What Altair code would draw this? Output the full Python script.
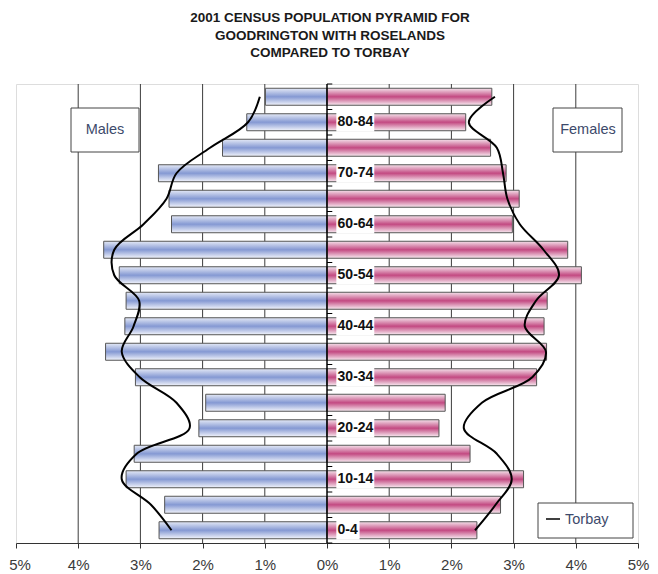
import altair as alt
import pandas as pd

# ---------------- data ----------------
ages = ["0-4", "5-9", "10-14", "15-19", "20-24", "25-29", "30-34", "35-39", "40-44",
        "45-49", "50-54", "55-59", "60-64", "65-69", "70-74", "75-79", "80-84", "85+"]
males = [2.70, 2.61, 3.23, 3.10, 2.06, 1.95, 3.08, 3.56, 3.25,
         3.23, 3.34, 3.59, 2.50, 2.54, 2.71, 1.68, 1.29, 0.99]
females = [2.41, 2.79, 3.16, 2.30, 1.80, 1.90, 3.37, 3.53, 3.49,
           3.54, 4.09, 3.87, 2.98, 3.09, 2.88, 2.63, 2.23, 2.65]
torbay_males = [2.50, 2.83, 3.30, 3.06, 2.21, 2.42, 3.01, 3.30, 3.11,
                3.02, 3.42, 3.42, 2.95, 2.58, 2.42, 1.88, 1.27, 1.08]
torbay_females = [2.38, 2.71, 2.97, 2.73, 2.20, 2.49, 3.30, 3.52, 3.18,
                  3.36, 3.73, 3.48, 3.10, 2.90, 2.83, 2.73, 2.28, 2.70]
age_labels = ["0-4", "10-14", "20-24", "30-34", "40-44", "50-54", "60-64", "70-74", "80-84"]
x_ticks = [-5, -4, -3, -2, -1, 0, 1, 2, 3, 4, 5]
title_lines = ["2001 CENSUS POPULATION PYRAMID FOR",
               "GOODRINGTON WITH ROSELANDS",
               "COMPARED TO TORBAY"]

FONT = "Liberation Sans"

male_df = pd.DataFrame({"age": ages, "idx": range(len(ages)), "value": [-v for v in males]})
female_df = pd.DataFrame({"age": ages, "idx": range(len(ages)), "value": females})
line_df = pd.concat([
    pd.DataFrame({"idx": range(len(ages)), "value": [-v for v in torbay_males], "side": "M"}),
    pd.DataFrame({"idx": range(len(ages)), "value": torbay_females, "side": "F"}),
])
label_df = pd.DataFrame({"label": age_labels, "idx": [ages.index(a) for a in age_labels]})
grid_df = pd.DataFrame({"g": [t for t in x_ticks if t not in (-5, 0, 5)]})
zero_df = pd.DataFrame({"z": [0]})
bound_df = pd.DataFrame({"b": [i - 0.5 for i in range(len(ages) + 1)]})

xs = alt.Scale(domain=[-5, 5], nice=False, zero=False)
ys = alt.Scale(domain=[-0.5, len(ages) - 0.5], nice=False, zero=False)
xaxis = alt.Axis(values=x_ticks, labelExpr="abs(datum.value) + '%'", grid=False,
                 domainColor="#333", tickColor="#333", tickSize=5, labelFontSize=15,
                 labelPadding=9, labelColor="#3a3a3a", title=None, labelFlush=False,
                 labelOverlap=False, labelFont=FONT,
                 labelOffset={"condition": {"test": "datum.value == -5", "value": 3.5},
                              "value": 0})

grad_m = alt.Gradient(gradient="linear", x1=0, y1=0, x2=0, y2=1, stops=[
    alt.GradientStop(color="#e4e9f6", offset=0),
    alt.GradientStop(color="#8599d3", offset=0.5),
    alt.GradientStop(color="#f2f4fb", offset=1)])
grad_f = alt.Gradient(gradient="linear", x1=0, y1=0, x2=0, y2=1, stops=[
    alt.GradientStop(color="#f4e1ea", offset=0),
    alt.GradientStop(color="#c34a82", offset=0.5),
    alt.GradientStop(color="#f8ebf1", offset=1)])

grid = alt.Chart(grid_df).mark_rule(color="#3c3c3c", strokeWidth=1).encode(
    x=alt.X("g:Q", scale=xs, axis=xaxis))

def bars(df, grad):
    return alt.Chart(df).transform_calculate(
        y0="datum.idx - 0.333", y1="datum.idx + 0.333", x0="0"
    ).mark_rect(fill=grad, stroke="#555", strokeWidth=1).encode(
        x=alt.X("value:Q", scale=xs, axis=xaxis), x2="x0:Q",
        y=alt.Y("y0:Q", scale=ys, axis=None), y2="y1:Q")

male_bars = bars(male_df, grad_m)
female_bars = bars(female_df, grad_f)

zero = alt.Chart(zero_df).mark_rule(color="black", strokeWidth=1.5).encode(
    x=alt.X("z:Q", scale=xs, axis=xaxis))

yticks = alt.Chart(bound_df).transform_calculate(x0="0", x1="0.085").mark_rule(
    color="black", strokeWidth=1).encode(
    x=alt.X("x0:Q", scale=xs, axis=xaxis), x2="x1:Q",
    y=alt.Y("b:Q", scale=ys, axis=None))

label_box = alt.Chart(label_df).transform_calculate(
    x0="0.15", x1="0.17 + length(datum.label) * 0.118",
    y0="datum.idx - 0.37", y1="datum.idx + 0.37"
).mark_rect(fill="white").encode(
    x=alt.X("x0:Q", scale=xs, axis=xaxis), x2="x1:Q",
    y=alt.Y("y0:Q", scale=ys, axis=None), y2="y1:Q")

label_text = alt.Chart(label_df).transform_calculate(x0="0.17").mark_text(
    align="left", baseline="middle", fontSize=14, fontWeight="bold", font=FONT,
    color="#111").encode(
    x=alt.X("x0:Q", scale=xs, axis=xaxis),
    y=alt.Y("idx:Q", scale=ys, axis=None), text="label:N")

torbay = alt.Chart(line_df).mark_line(color="black", strokeWidth=2,
                                      interpolate="catmull-rom").encode(
    x=alt.X("value:Q", scale=xs, axis=xaxis),
    y=alt.Y("idx:Q", scale=ys, axis=None),
    detail="side:N", order="idx:Q")

one = pd.DataFrame({"a": [1]})
TXT = "#3d4a6b"

def box(x0, x1, y0, y1):
    return alt.Chart(one).mark_rect(fill="white", stroke="#444", strokeWidth=1).encode(
        x=alt.value(x0), x2=alt.value(x1), y=alt.value(y0), y2=alt.value(y1))

def label(txt, x, y, size=14.5, align="center", color=TXT, weight="normal"):
    return alt.Chart(one).mark_text(text=txt, align=align, baseline="middle",
                                    fontSize=size, font=FONT, color=color,
                                    fontWeight=weight).encode(
        x=alt.value(x), y=alt.value(y))

males_box = box(55, 123, 24, 68) + label("Males", 89, 46)
females_box = box(537, 606, 24, 68) + label("Females", 572, 46)
legend = (box(522, 617, 419, 454)
          + alt.Chart(one).mark_rule(color="black", strokeWidth=1.5).encode(
              x=alt.value(530), x2=alt.value(544), y=alt.value(435))
          + label("Torbay", 549, 436, align="left"))

titles = None
for i, t in enumerate(title_lines):
    layer = label(t, 314, -66 + i * 17.5, size=13.5, color="#1a1a1a", weight="bold")
    titles = layer if titles is None else titles + layer

chart = alt.layer(
    grid, male_bars, female_bars, zero, yticks, label_box, label_text, torbay,
    males_box, females_box, legend, titles
).properties(
    width=622, height=459, autosize="none",
    padding={"left": 8, "top": 76, "right": 12, "bottom": 29}
).configure_view(stroke="#b5b5b5", strokeWidth=1).configure(font=FONT, background="white")

chart.save("out.html", embed_options={"renderer": "svg", "actions": False})
